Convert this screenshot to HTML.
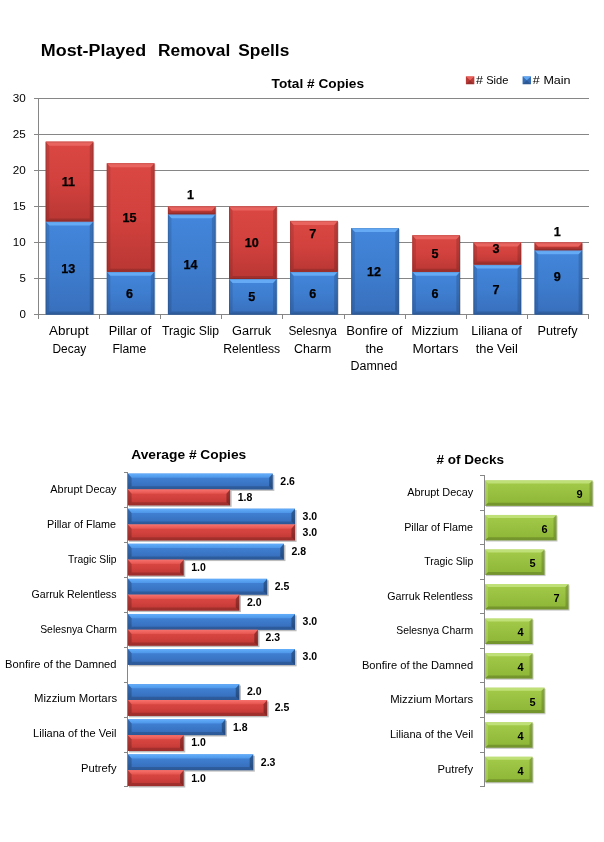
<!DOCTYPE html>
<html lang="en"><head><meta charset="utf-8"><title>Most-Played Removal Spells</title>
<style>html,body{margin:0;padding:0;background:#fff}svg{display:block}text{font-family:"Liberation Sans", sans-serif;}</style>
</head><body>
<svg width="604" height="842" viewBox="0 0 604 842">
<defs>
<linearGradient id="vsh" x1="0" x2="1" y1="0" y2="0">
<stop offset="0" stop-color="#000" stop-opacity=".30"/><stop offset=".07" stop-color="#000" stop-opacity=".06"/>
<stop offset=".5" stop-color="#000" stop-opacity="0"/>
<stop offset=".93" stop-color="#000" stop-opacity=".06"/><stop offset="1" stop-color="#000" stop-opacity=".30"/>
</linearGradient>
<linearGradient id="gBv" x1="0" x2="0" y1="0" y2="1">
<stop offset="0" stop-color="#4386db"/><stop offset=".5" stop-color="#3e7dcf"/><stop offset="1" stop-color="#386fbc"/>
</linearGradient>
<linearGradient id="gRv" x1="0" x2="0" y1="0" y2="1">
<stop offset="0" stop-color="#db4844"/><stop offset=".5" stop-color="#d2413d"/><stop offset="1" stop-color="#b93734"/>
</linearGradient>
<linearGradient id="hB" x1="0" x2="0" y1="0" y2="1">
<stop offset="0" stop-color="#4385da"/><stop offset=".5" stop-color="#3c79ca"/><stop offset="1" stop-color="#3469b4"/>
</linearGradient>
<linearGradient id="hR" x1="0" x2="0" y1="0" y2="1">
<stop offset="0" stop-color="#e04c48"/><stop offset=".5" stop-color="#d2413d"/><stop offset="1" stop-color="#ba3633"/>
</linearGradient>
<linearGradient id="hiB" x1="0" x2="0" y1="0" y2="1"><stop offset="0" stop-color="#66b2ff"/><stop offset="1" stop-color="#4f98ea"/></linearGradient>
<linearGradient id="hiR" x1="0" x2="0" y1="0" y2="1"><stop offset="0" stop-color="#fa7570"/><stop offset="1" stop-color="#e65550"/></linearGradient>
<linearGradient id="hend" x1="0" x2="1" y1="0" y2="0">
<stop offset="0" stop-color="#000" stop-opacity="0"/><stop offset="1" stop-color="#000" stop-opacity=".35"/>
</linearGradient>
<linearGradient id="gG" x1="0" x2="0" y1="0" y2="1">
<stop offset="0" stop-color="#a4cb4a"/><stop offset="1" stop-color="#8db536"/>
</linearGradient>
</defs>
<rect width="604" height="842" fill="#fff"/>
<g stroke="#868686" stroke-width="1" shape-rendering="crispEdges">
<line x1="34" y1="314.5" x2="588.5" y2="314.5"/>
<line x1="34" y1="278.5" x2="588.5" y2="278.5"/>
<line x1="34" y1="242.5" x2="588.5" y2="242.5"/>
<line x1="34" y1="206.5" x2="588.5" y2="206.5"/>
<line x1="34" y1="170.5" x2="588.5" y2="170.5"/>
<line x1="34" y1="134.5" x2="588.5" y2="134.5"/>
<line x1="34" y1="98.5" x2="588.5" y2="98.5"/>
<line x1="38.5" y1="98" x2="38.5" y2="315.0"/>
<line x1="38.5" y1="314.0" x2="38.5" y2="319.0"/>
<line x1="99.5" y1="314.0" x2="99.5" y2="319.0"/>
<line x1="160.5" y1="314.0" x2="160.5" y2="319.0"/>
<line x1="221.5" y1="314.0" x2="221.5" y2="319.0"/>
<line x1="282.5" y1="314.0" x2="282.5" y2="319.0"/>
<line x1="344.5" y1="314.0" x2="344.5" y2="319.0"/>
<line x1="405.5" y1="314.0" x2="405.5" y2="319.0"/>
<line x1="466.5" y1="314.0" x2="466.5" y2="319.0"/>
<line x1="527.5" y1="314.0" x2="527.5" y2="319.0"/>
<line x1="588.5" y1="314.0" x2="588.5" y2="319.0"/>
</g>
<text x="25.80" y="317.80" font-size="11.5" text-anchor="end">0</text>
<text x="25.80" y="281.80" font-size="11.5" text-anchor="end">5</text>
<text x="25.80" y="245.80" font-size="11.5" text-anchor="end" textLength="13.0" lengthAdjust="spacingAndGlyphs">10</text>
<text x="25.80" y="209.80" font-size="11.5" text-anchor="end" textLength="13.0" lengthAdjust="spacingAndGlyphs">15</text>
<text x="25.80" y="173.80" font-size="11.5" text-anchor="end" textLength="13.0" lengthAdjust="spacingAndGlyphs">20</text>
<text x="25.80" y="137.80" font-size="11.5" text-anchor="end" textLength="13.0" lengthAdjust="spacingAndGlyphs">25</text>
<text x="25.80" y="101.80" font-size="11.5" text-anchor="end" textLength="13.0" lengthAdjust="spacingAndGlyphs">30</text>
<rect x="46.70" y="142.70" width="47.60" height="171.80" fill="#000" fill-opacity=".18"/>
<rect x="107.81" y="164.30" width="47.60" height="150.20" fill="#000" fill-opacity=".18"/>
<rect x="168.92" y="207.50" width="47.60" height="107.00" fill="#000" fill-opacity=".18"/>
<rect x="230.03" y="207.50" width="47.60" height="107.00" fill="#000" fill-opacity=".18"/>
<rect x="291.14" y="221.90" width="47.60" height="92.60" fill="#000" fill-opacity=".18"/>
<rect x="352.26" y="229.10" width="47.60" height="85.40" fill="#000" fill-opacity=".18"/>
<rect x="413.37" y="236.30" width="47.60" height="78.20" fill="#000" fill-opacity=".18"/>
<rect x="474.48" y="243.50" width="47.60" height="71.00" fill="#000" fill-opacity=".18"/>
<rect x="535.59" y="243.50" width="47.60" height="71.00" fill="#000" fill-opacity=".18"/>
<rect x="45.70" y="221.40" width="47.60" height="93.10" fill="#3d7bcd"/>
<rect x="45.70" y="221.40" width="47.60" height="93.10" fill="url(#gBv)"/>
<path d="M45.70 221.40L49.30 225.40V311.50L45.70 314.50Z" fill="#000" fill-opacity=".11"/>
<path d="M93.30 221.40L89.70 225.40V311.50L93.30 314.50Z" fill="#000" fill-opacity=".15"/>
<path d="M45.70 221.40H93.30L89.70 225.40H49.30Z" fill="#66acf6" fill-opacity=".95"/>
<path d="M45.70 314.50H93.30L89.70 311.50H49.30Z" fill="#000" fill-opacity=".14"/>
<rect x="46.20" y="221.90" width="46.60" height="92.10" fill="none" stroke="#000" stroke-opacity=".10"/>
<rect x="45.70" y="141.70" width="47.60" height="79.70" fill="#d2413d"/>
<rect x="45.70" y="141.70" width="47.60" height="79.70" fill="url(#gRv)"/>
<path d="M45.70 141.70L49.30 145.70V218.40L45.70 221.40Z" fill="#000" fill-opacity=".11"/>
<path d="M93.30 141.70L89.70 145.70V218.40L93.30 221.40Z" fill="#000" fill-opacity=".15"/>
<path d="M45.70 141.70H93.30L89.70 145.70H49.30Z" fill="#ea6661" fill-opacity=".95"/>
<path d="M45.70 221.40H93.30L89.70 218.40H49.30Z" fill="#000" fill-opacity=".14"/>
<rect x="46.20" y="142.20" width="46.60" height="78.70" fill="none" stroke="#000" stroke-opacity=".10"/>
<rect x="106.81" y="271.80" width="47.60" height="42.70" fill="#3d7bcd"/>
<rect x="106.81" y="271.80" width="47.60" height="42.70" fill="url(#gBv)"/>
<path d="M106.81 271.80L110.41 275.80V311.50L106.81 314.50Z" fill="#000" fill-opacity=".11"/>
<path d="M154.41 271.80L150.81 275.80V311.50L154.41 314.50Z" fill="#000" fill-opacity=".15"/>
<path d="M106.81 271.80H154.41L150.81 275.80H110.41Z" fill="#66acf6" fill-opacity=".95"/>
<path d="M106.81 314.50H154.41L150.81 311.50H110.41Z" fill="#000" fill-opacity=".14"/>
<rect x="107.31" y="272.30" width="46.60" height="41.70" fill="none" stroke="#000" stroke-opacity=".10"/>
<rect x="106.81" y="163.30" width="47.60" height="108.50" fill="#d2413d"/>
<rect x="106.81" y="163.30" width="47.60" height="108.50" fill="url(#gRv)"/>
<path d="M106.81 163.30L110.41 167.30V268.80L106.81 271.80Z" fill="#000" fill-opacity=".11"/>
<path d="M154.41 163.30L150.81 167.30V268.80L154.41 271.80Z" fill="#000" fill-opacity=".15"/>
<path d="M106.81 163.30H154.41L150.81 167.30H110.41Z" fill="#ea6661" fill-opacity=".95"/>
<path d="M106.81 271.80H154.41L150.81 268.80H110.41Z" fill="#000" fill-opacity=".14"/>
<rect x="107.31" y="163.80" width="46.60" height="107.50" fill="none" stroke="#000" stroke-opacity=".10"/>
<rect x="167.92" y="214.20" width="47.60" height="100.30" fill="#3d7bcd"/>
<rect x="167.92" y="214.20" width="47.60" height="100.30" fill="url(#gBv)"/>
<path d="M167.92 214.20L171.52 218.20V311.50L167.92 314.50Z" fill="#000" fill-opacity=".11"/>
<path d="M215.52 214.20L211.92 218.20V311.50L215.52 314.50Z" fill="#000" fill-opacity=".15"/>
<path d="M167.92 214.20H215.52L211.92 218.20H171.52Z" fill="#66acf6" fill-opacity=".95"/>
<path d="M167.92 314.50H215.52L211.92 311.50H171.52Z" fill="#000" fill-opacity=".14"/>
<rect x="168.42" y="214.70" width="46.60" height="99.30" fill="none" stroke="#000" stroke-opacity=".10"/>
<rect x="167.92" y="206.50" width="47.60" height="7.70" fill="#d2413d"/>
<rect x="167.92" y="206.50" width="47.60" height="7.70" fill="url(#gRv)"/>
<path d="M167.92 206.50L171.52 210.50V211.20L167.92 214.20Z" fill="#000" fill-opacity=".11"/>
<path d="M215.52 206.50L211.92 210.50V211.20L215.52 214.20Z" fill="#000" fill-opacity=".15"/>
<path d="M167.92 206.50H215.52L211.92 210.50H171.52Z" fill="#ea6661" fill-opacity=".95"/>
<path d="M167.92 214.20H215.52L211.92 211.20H171.52Z" fill="#000" fill-opacity=".14"/>
<rect x="168.42" y="207.00" width="46.60" height="6.70" fill="none" stroke="#000" stroke-opacity=".10"/>
<rect x="229.03" y="279.00" width="47.60" height="35.50" fill="#3d7bcd"/>
<rect x="229.03" y="279.00" width="47.60" height="35.50" fill="url(#gBv)"/>
<path d="M229.03 279.00L232.63 283.00V311.50L229.03 314.50Z" fill="#000" fill-opacity=".11"/>
<path d="M276.63 279.00L273.03 283.00V311.50L276.63 314.50Z" fill="#000" fill-opacity=".15"/>
<path d="M229.03 279.00H276.63L273.03 283.00H232.63Z" fill="#66acf6" fill-opacity=".95"/>
<path d="M229.03 314.50H276.63L273.03 311.50H232.63Z" fill="#000" fill-opacity=".14"/>
<rect x="229.53" y="279.50" width="46.60" height="34.50" fill="none" stroke="#000" stroke-opacity=".10"/>
<rect x="229.03" y="206.50" width="47.60" height="72.50" fill="#d2413d"/>
<rect x="229.03" y="206.50" width="47.60" height="72.50" fill="url(#gRv)"/>
<path d="M229.03 206.50L232.63 210.50V276.00L229.03 279.00Z" fill="#000" fill-opacity=".11"/>
<path d="M276.63 206.50L273.03 210.50V276.00L276.63 279.00Z" fill="#000" fill-opacity=".15"/>
<path d="M229.03 206.50H276.63L273.03 210.50H232.63Z" fill="#ea6661" fill-opacity=".95"/>
<path d="M229.03 279.00H276.63L273.03 276.00H232.63Z" fill="#000" fill-opacity=".14"/>
<rect x="229.53" y="207.00" width="46.60" height="71.50" fill="none" stroke="#000" stroke-opacity=".10"/>
<rect x="290.14" y="271.80" width="47.60" height="42.70" fill="#3d7bcd"/>
<rect x="290.14" y="271.80" width="47.60" height="42.70" fill="url(#gBv)"/>
<path d="M290.14 271.80L293.74 275.80V311.50L290.14 314.50Z" fill="#000" fill-opacity=".11"/>
<path d="M337.74 271.80L334.14 275.80V311.50L337.74 314.50Z" fill="#000" fill-opacity=".15"/>
<path d="M290.14 271.80H337.74L334.14 275.80H293.74Z" fill="#66acf6" fill-opacity=".95"/>
<path d="M290.14 314.50H337.74L334.14 311.50H293.74Z" fill="#000" fill-opacity=".14"/>
<rect x="290.64" y="272.30" width="46.60" height="41.70" fill="none" stroke="#000" stroke-opacity=".10"/>
<rect x="290.14" y="220.90" width="47.60" height="50.90" fill="#d2413d"/>
<rect x="290.14" y="220.90" width="47.60" height="50.90" fill="url(#gRv)"/>
<path d="M290.14 220.90L293.74 224.90V268.80L290.14 271.80Z" fill="#000" fill-opacity=".11"/>
<path d="M337.74 220.90L334.14 224.90V268.80L337.74 271.80Z" fill="#000" fill-opacity=".15"/>
<path d="M290.14 220.90H337.74L334.14 224.90H293.74Z" fill="#ea6661" fill-opacity=".95"/>
<path d="M290.14 271.80H337.74L334.14 268.80H293.74Z" fill="#000" fill-opacity=".14"/>
<rect x="290.64" y="221.40" width="46.60" height="49.90" fill="none" stroke="#000" stroke-opacity=".10"/>
<rect x="351.26" y="228.10" width="47.60" height="86.40" fill="#3d7bcd"/>
<rect x="351.26" y="228.10" width="47.60" height="86.40" fill="url(#gBv)"/>
<path d="M351.26 228.10L354.86 232.10V311.50L351.26 314.50Z" fill="#000" fill-opacity=".11"/>
<path d="M398.86 228.10L395.26 232.10V311.50L398.86 314.50Z" fill="#000" fill-opacity=".15"/>
<path d="M351.26 228.10H398.86L395.26 232.10H354.86Z" fill="#66acf6" fill-opacity=".95"/>
<path d="M351.26 314.50H398.86L395.26 311.50H354.86Z" fill="#000" fill-opacity=".14"/>
<rect x="351.76" y="228.60" width="46.60" height="85.40" fill="none" stroke="#000" stroke-opacity=".10"/>
<rect x="412.37" y="271.80" width="47.60" height="42.70" fill="#3d7bcd"/>
<rect x="412.37" y="271.80" width="47.60" height="42.70" fill="url(#gBv)"/>
<path d="M412.37 271.80L415.97 275.80V311.50L412.37 314.50Z" fill="#000" fill-opacity=".11"/>
<path d="M459.97 271.80L456.37 275.80V311.50L459.97 314.50Z" fill="#000" fill-opacity=".15"/>
<path d="M412.37 271.80H459.97L456.37 275.80H415.97Z" fill="#66acf6" fill-opacity=".95"/>
<path d="M412.37 314.50H459.97L456.37 311.50H415.97Z" fill="#000" fill-opacity=".14"/>
<rect x="412.87" y="272.30" width="46.60" height="41.70" fill="none" stroke="#000" stroke-opacity=".10"/>
<rect x="412.37" y="235.30" width="47.60" height="36.50" fill="#d2413d"/>
<rect x="412.37" y="235.30" width="47.60" height="36.50" fill="url(#gRv)"/>
<path d="M412.37 235.30L415.97 239.30V268.80L412.37 271.80Z" fill="#000" fill-opacity=".11"/>
<path d="M459.97 235.30L456.37 239.30V268.80L459.97 271.80Z" fill="#000" fill-opacity=".15"/>
<path d="M412.37 235.30H459.97L456.37 239.30H415.97Z" fill="#ea6661" fill-opacity=".95"/>
<path d="M412.37 271.80H459.97L456.37 268.80H415.97Z" fill="#000" fill-opacity=".14"/>
<rect x="412.87" y="235.80" width="46.60" height="35.50" fill="none" stroke="#000" stroke-opacity=".10"/>
<rect x="473.48" y="264.60" width="47.60" height="49.90" fill="#3d7bcd"/>
<rect x="473.48" y="264.60" width="47.60" height="49.90" fill="url(#gBv)"/>
<path d="M473.48 264.60L477.08 268.60V311.50L473.48 314.50Z" fill="#000" fill-opacity=".11"/>
<path d="M521.08 264.60L517.48 268.60V311.50L521.08 314.50Z" fill="#000" fill-opacity=".15"/>
<path d="M473.48 264.60H521.08L517.48 268.60H477.08Z" fill="#66acf6" fill-opacity=".95"/>
<path d="M473.48 314.50H521.08L517.48 311.50H477.08Z" fill="#000" fill-opacity=".14"/>
<rect x="473.98" y="265.10" width="46.60" height="48.90" fill="none" stroke="#000" stroke-opacity=".10"/>
<rect x="473.48" y="242.50" width="47.60" height="22.10" fill="#d2413d"/>
<rect x="473.48" y="242.50" width="47.60" height="22.10" fill="url(#gRv)"/>
<path d="M473.48 242.50L477.08 246.50V261.60L473.48 264.60Z" fill="#000" fill-opacity=".11"/>
<path d="M521.08 242.50L517.48 246.50V261.60L521.08 264.60Z" fill="#000" fill-opacity=".15"/>
<path d="M473.48 242.50H521.08L517.48 246.50H477.08Z" fill="#ea6661" fill-opacity=".95"/>
<path d="M473.48 264.60H521.08L517.48 261.60H477.08Z" fill="#000" fill-opacity=".14"/>
<rect x="473.98" y="243.00" width="46.60" height="21.10" fill="none" stroke="#000" stroke-opacity=".10"/>
<rect x="534.59" y="250.20" width="47.60" height="64.30" fill="#3d7bcd"/>
<rect x="534.59" y="250.20" width="47.60" height="64.30" fill="url(#gBv)"/>
<path d="M534.59 250.20L538.19 254.20V311.50L534.59 314.50Z" fill="#000" fill-opacity=".11"/>
<path d="M582.19 250.20L578.59 254.20V311.50L582.19 314.50Z" fill="#000" fill-opacity=".15"/>
<path d="M534.59 250.20H582.19L578.59 254.20H538.19Z" fill="#66acf6" fill-opacity=".95"/>
<path d="M534.59 314.50H582.19L578.59 311.50H538.19Z" fill="#000" fill-opacity=".14"/>
<rect x="535.09" y="250.70" width="46.60" height="63.30" fill="none" stroke="#000" stroke-opacity=".10"/>
<rect x="534.59" y="242.50" width="47.60" height="7.70" fill="#d2413d"/>
<rect x="534.59" y="242.50" width="47.60" height="7.70" fill="url(#gRv)"/>
<path d="M534.59 242.50L538.19 246.50V247.20L534.59 250.20Z" fill="#000" fill-opacity=".11"/>
<path d="M582.19 242.50L578.59 246.50V247.20L582.19 250.20Z" fill="#000" fill-opacity=".15"/>
<path d="M534.59 242.50H582.19L578.59 246.50H538.19Z" fill="#ea6661" fill-opacity=".95"/>
<path d="M534.59 250.20H582.19L578.59 247.20H538.19Z" fill="#000" fill-opacity=".14"/>
<rect x="535.09" y="243.00" width="46.60" height="6.70" fill="none" stroke="#000" stroke-opacity=".10"/>
<text x="68.36" y="272.50" font-size="12.6" font-weight="bold" stroke="#000" stroke-width=".25" text-anchor="middle">13</text>
<text x="68.36" y="186.10" font-size="12.6" font-weight="bold" stroke="#000" stroke-width=".25" text-anchor="middle">11</text>
<text x="129.47" y="297.70" font-size="12.6" font-weight="bold" stroke="#000" stroke-width=".25" text-anchor="middle">6</text>
<text x="129.47" y="222.10" font-size="12.6" font-weight="bold" stroke="#000" stroke-width=".25" text-anchor="middle">15</text>
<text x="190.58" y="268.90" font-size="12.6" font-weight="bold" stroke="#000" stroke-width=".25" text-anchor="middle">14</text>
<text x="190.58" y="199.20" font-size="12.6" font-weight="bold" stroke="#000" stroke-width=".25" text-anchor="middle">1</text>
<text x="251.69" y="301.30" font-size="12.6" font-weight="bold" stroke="#000" stroke-width=".25" text-anchor="middle">5</text>
<text x="251.69" y="247.30" font-size="12.6" font-weight="bold" stroke="#000" stroke-width=".25" text-anchor="middle">10</text>
<text x="312.80" y="297.70" font-size="12.6" font-weight="bold" stroke="#000" stroke-width=".25" text-anchor="middle">6</text>
<text x="312.80" y="238.10" font-size="12.6" font-weight="bold" stroke="#000" stroke-width=".25" text-anchor="middle">7</text>
<text x="373.91" y="276.10" font-size="12.6" font-weight="bold" stroke="#000" stroke-width=".25" text-anchor="middle">12</text>
<text x="435.02" y="297.70" font-size="12.6" font-weight="bold" stroke="#000" stroke-width=".25" text-anchor="middle">6</text>
<text x="435.02" y="258.10" font-size="12.6" font-weight="bold" stroke="#000" stroke-width=".25" text-anchor="middle">5</text>
<text x="496.13" y="294.10" font-size="12.6" font-weight="bold" stroke="#000" stroke-width=".25" text-anchor="middle">7</text>
<text x="496.13" y="253.00" font-size="12.6" font-weight="bold" stroke="#000" stroke-width=".25" text-anchor="middle">3</text>
<text x="557.24" y="281.10" font-size="12.6" font-weight="bold" stroke="#000" stroke-width=".25" text-anchor="middle">9</text>
<text x="557.24" y="235.60" font-size="12.6" font-weight="bold" stroke="#000" stroke-width=".25" text-anchor="middle">1</text>
<text x="68.90" y="335.30" font-size="12.0" text-anchor="middle" textLength="39.6" lengthAdjust="spacingAndGlyphs">Abrupt</text>
<text x="69.35" y="352.70" font-size="12.0" text-anchor="middle" textLength="33.7" lengthAdjust="spacingAndGlyphs">Decay</text>
<text x="129.95" y="335.30" font-size="12.0" text-anchor="middle" textLength="42.5" lengthAdjust="spacingAndGlyphs">Pillar of</text>
<text x="129.35" y="352.70" font-size="12.0" text-anchor="middle" textLength="33.9" lengthAdjust="spacingAndGlyphs">Flame</text>
<text x="190.60" y="335.30" font-size="12.0" text-anchor="middle" textLength="57.0" lengthAdjust="spacingAndGlyphs">Tragic Slip</text>
<text x="251.65" y="335.30" font-size="12.0" text-anchor="middle" textLength="39.1" lengthAdjust="spacingAndGlyphs">Garruk</text>
<text x="251.70" y="352.70" font-size="12.0" text-anchor="middle" textLength="57.0" lengthAdjust="spacingAndGlyphs">Relentless</text>
<text x="312.65" y="335.30" font-size="12.0" text-anchor="middle" textLength="48.5" lengthAdjust="spacingAndGlyphs">Selesnya</text>
<text x="312.65" y="352.70" font-size="12.0" text-anchor="middle" textLength="37.1" lengthAdjust="spacingAndGlyphs">Charm</text>
<text x="374.40" y="335.30" font-size="12.0" text-anchor="middle" textLength="56.2" lengthAdjust="spacingAndGlyphs">Bonfire of</text>
<text x="374.40" y="352.70" font-size="12.0" text-anchor="middle" textLength="18.0" lengthAdjust="spacingAndGlyphs">the</text>
<text x="374.00" y="369.70" font-size="12.0" text-anchor="middle" textLength="47.0" lengthAdjust="spacingAndGlyphs">Damned</text>
<text x="434.95" y="335.30" font-size="12.0" text-anchor="middle" textLength="46.9" lengthAdjust="spacingAndGlyphs">Mizzium</text>
<text x="435.45" y="352.70" font-size="12.0" text-anchor="middle" textLength="45.9" lengthAdjust="spacingAndGlyphs">Mortars</text>
<text x="496.60" y="335.30" font-size="12.0" text-anchor="middle" textLength="50.6" lengthAdjust="spacingAndGlyphs">Liliana of</text>
<text x="496.75" y="352.70" font-size="12.0" text-anchor="middle" textLength="42.1" lengthAdjust="spacingAndGlyphs">the Veil</text>
<text x="557.55" y="335.30" font-size="12.0" text-anchor="middle" textLength="40.1" lengthAdjust="spacingAndGlyphs">Putrefy</text>
<text y="55.8" font-size="17.4" font-weight="bold"><tspan x="40.8" textLength="105.4" lengthAdjust="spacingAndGlyphs">Most-Played</tspan> <tspan x="158" textLength="72.3" lengthAdjust="spacingAndGlyphs">Removal</tspan> <tspan x="238.3" textLength="51" lengthAdjust="spacingAndGlyphs">Spells</tspan></text>
<text x="317.80" y="87.50" font-size="13.6" font-weight="bold" text-anchor="middle" textLength="92.4" lengthAdjust="spacingAndGlyphs">Total # Copies</text>
<rect x="465.9" y="76.4" width="8.4" height="7.8" fill="#d2413d"/>
<path d="M465.9 76.4h8.4L470.09999999999997 80.30000000000001z" fill="#ee6a64" fill-opacity=".85"/>
<path d="M465.9 76.4L470.09999999999997 80.30000000000001L465.9 84.2zM474.29999999999995 76.4L470.09999999999997 80.30000000000001L474.29999999999995 84.2z" fill="#000" fill-opacity=".12"/>
<path d="M465.9 84.2h8.4L470.09999999999997 80.30000000000001z" fill="#000" fill-opacity=".28"/>
<rect x="522.6" y="76.4" width="8.4" height="7.8" fill="#3d7bcd"/>
<path d="M522.6 76.4h8.4L526.8000000000001 80.30000000000001z" fill="#66aef8" fill-opacity=".85"/>
<path d="M522.6 76.4L526.8000000000001 80.30000000000001L522.6 84.2zM531.0 76.4L526.8000000000001 80.30000000000001L531.0 84.2z" fill="#000" fill-opacity=".12"/>
<path d="M522.6 84.2h8.4L526.8000000000001 80.30000000000001z" fill="#000" fill-opacity=".28"/>
<text y="83.8" font-size="11.8"><tspan x="476.0" textLength="7.0" lengthAdjust="spacingAndGlyphs">#</tspan> <tspan x="486.2" textLength="22.2" lengthAdjust="spacingAndGlyphs">Side</tspan></text>
<text y="83.8" font-size="11.8"><tspan x="532.8" textLength="7.0" lengthAdjust="spacingAndGlyphs">#</tspan> <tspan x="543.4" textLength="27.2" lengthAdjust="spacingAndGlyphs">Main</tspan></text>
<g stroke="#868686" stroke-width="1" shape-rendering="crispEdges">
<line x1="127.5" y1="472.4" x2="127.5" y2="787.1"/>
<line x1="124" y1="472.5" x2="128.0" y2="472.5"/>
<line x1="124" y1="507.5" x2="128.0" y2="507.5"/>
<line x1="124" y1="542.5" x2="128.0" y2="542.5"/>
<line x1="124" y1="577.5" x2="128.0" y2="577.5"/>
<line x1="124" y1="612.5" x2="128.0" y2="612.5"/>
<line x1="124" y1="647.5" x2="128.0" y2="647.5"/>
<line x1="124" y1="682.5" x2="128.0" y2="682.5"/>
<line x1="124" y1="717.5" x2="128.0" y2="717.5"/>
<line x1="124" y1="752.5" x2="128.0" y2="752.5"/>
<line x1="124" y1="786.5" x2="128.0" y2="786.5"/>
</g>
<rect x="129.00" y="475.00" width="145.34" height="15.90" fill="#000" fill-opacity=".26"/>
<rect x="128.00" y="473.60" width="144.74" height="15.90" fill="url(#hB)"/>
<path d="M128.00 473.60H272.74L269.14 477.80H131.60Z" fill="url(#hiB)" fill-opacity=".9"/>
<path d="M128.00 489.50H272.74L269.14 486.30H131.60Z" fill="#000" fill-opacity=".16"/>
<path d="M128.00 473.60L131.60 477.80V486.30L128.00 489.50Z" fill="#000" fill-opacity=".20"/>
<path d="M272.74 473.60L269.14 477.80V486.30L272.74 489.50Z" fill="#000" fill-opacity=".30"/>
<rect x="129.00" y="490.90" width="102.66" height="15.90" fill="#000" fill-opacity=".26"/>
<rect x="128.00" y="489.50" width="102.06" height="15.90" fill="url(#hR)"/>
<path d="M128.00 489.50H230.06L226.46 493.70H131.60Z" fill="url(#hiR)" fill-opacity=".9"/>
<path d="M128.00 505.40H230.06L226.46 502.20H131.60Z" fill="#000" fill-opacity=".16"/>
<path d="M128.00 489.50L131.60 493.70V502.20L128.00 505.40Z" fill="#000" fill-opacity=".20"/>
<path d="M230.06 489.50L226.46 493.70V502.20L230.06 505.40Z" fill="#000" fill-opacity=".30"/>
<rect x="129.00" y="510.09" width="167.61" height="15.90" fill="#000" fill-opacity=".26"/>
<rect x="128.00" y="508.69" width="167.01" height="15.90" fill="url(#hB)"/>
<path d="M128.00 508.69H295.01L291.41 512.89H131.60Z" fill="url(#hiB)" fill-opacity=".9"/>
<path d="M128.00 524.59H295.01L291.41 521.39H131.60Z" fill="#000" fill-opacity=".16"/>
<path d="M128.00 508.69L131.60 512.89V521.39L128.00 524.59Z" fill="#000" fill-opacity=".20"/>
<path d="M295.01 508.69L291.41 512.89V521.39L295.01 524.59Z" fill="#000" fill-opacity=".30"/>
<rect x="129.00" y="525.99" width="167.61" height="15.90" fill="#000" fill-opacity=".26"/>
<rect x="128.00" y="524.59" width="167.01" height="15.90" fill="url(#hR)"/>
<path d="M128.00 524.59H295.01L291.41 528.79H131.60Z" fill="url(#hiR)" fill-opacity=".9"/>
<path d="M128.00 540.49H295.01L291.41 537.29H131.60Z" fill="#000" fill-opacity=".16"/>
<path d="M128.00 524.59L131.60 528.79V537.29L128.00 540.49Z" fill="#000" fill-opacity=".20"/>
<path d="M295.01 524.59L291.41 528.79V537.29L295.01 540.49Z" fill="#000" fill-opacity=".30"/>
<rect x="129.00" y="545.18" width="156.48" height="15.90" fill="#000" fill-opacity=".26"/>
<rect x="128.00" y="543.78" width="155.88" height="15.90" fill="url(#hB)"/>
<path d="M128.00 543.78H283.88L280.28 547.98H131.60Z" fill="url(#hiB)" fill-opacity=".9"/>
<path d="M128.00 559.68H283.88L280.28 556.48H131.60Z" fill="#000" fill-opacity=".16"/>
<path d="M128.00 543.78L131.60 547.98V556.48L128.00 559.68Z" fill="#000" fill-opacity=".20"/>
<path d="M283.88 543.78L280.28 547.98V556.48L283.88 559.68Z" fill="#000" fill-opacity=".30"/>
<rect x="129.00" y="561.08" width="56.27" height="15.90" fill="#000" fill-opacity=".26"/>
<rect x="128.00" y="559.68" width="55.67" height="15.90" fill="url(#hR)"/>
<path d="M128.00 559.68H183.67L180.07 563.88H131.60Z" fill="url(#hiR)" fill-opacity=".9"/>
<path d="M128.00 575.58H183.67L180.07 572.38H131.60Z" fill="#000" fill-opacity=".16"/>
<path d="M128.00 559.68L131.60 563.88V572.38L128.00 575.58Z" fill="#000" fill-opacity=".20"/>
<path d="M183.67 559.68L180.07 563.88V572.38L183.67 575.58Z" fill="#000" fill-opacity=".30"/>
<rect x="129.00" y="580.27" width="139.78" height="15.90" fill="#000" fill-opacity=".26"/>
<rect x="128.00" y="578.87" width="139.18" height="15.90" fill="url(#hB)"/>
<path d="M128.00 578.87H267.18L263.57 583.07H131.60Z" fill="url(#hiB)" fill-opacity=".9"/>
<path d="M128.00 594.77H267.18L263.57 591.57H131.60Z" fill="#000" fill-opacity=".16"/>
<path d="M128.00 578.87L131.60 583.07V591.57L128.00 594.77Z" fill="#000" fill-opacity=".20"/>
<path d="M267.18 578.87L263.57 583.07V591.57L267.18 594.77Z" fill="#000" fill-opacity=".30"/>
<rect x="129.00" y="596.17" width="111.94" height="15.90" fill="#000" fill-opacity=".26"/>
<rect x="128.00" y="594.77" width="111.34" height="15.90" fill="url(#hR)"/>
<path d="M128.00 594.77H239.34L235.74 598.97H131.60Z" fill="url(#hiR)" fill-opacity=".9"/>
<path d="M128.00 610.67H239.34L235.74 607.47H131.60Z" fill="#000" fill-opacity=".16"/>
<path d="M128.00 594.77L131.60 598.97V607.47L128.00 610.67Z" fill="#000" fill-opacity=".20"/>
<path d="M239.34 594.77L235.74 598.97V607.47L239.34 610.67Z" fill="#000" fill-opacity=".30"/>
<rect x="129.00" y="615.36" width="167.61" height="15.90" fill="#000" fill-opacity=".26"/>
<rect x="128.00" y="613.96" width="167.01" height="15.90" fill="url(#hB)"/>
<path d="M128.00 613.96H295.01L291.41 618.16H131.60Z" fill="url(#hiB)" fill-opacity=".9"/>
<path d="M128.00 629.86H295.01L291.41 626.66H131.60Z" fill="#000" fill-opacity=".16"/>
<path d="M128.00 613.96L131.60 618.16V626.66L128.00 629.86Z" fill="#000" fill-opacity=".20"/>
<path d="M295.01 613.96L291.41 618.16V626.66L295.01 629.86Z" fill="#000" fill-opacity=".30"/>
<rect x="129.00" y="631.26" width="130.50" height="15.90" fill="#000" fill-opacity=".26"/>
<rect x="128.00" y="629.86" width="129.90" height="15.90" fill="url(#hR)"/>
<path d="M128.00 629.86H257.90L254.30 634.06H131.60Z" fill="url(#hiR)" fill-opacity=".9"/>
<path d="M128.00 645.76H257.90L254.30 642.56H131.60Z" fill="#000" fill-opacity=".16"/>
<path d="M128.00 629.86L131.60 634.06V642.56L128.00 645.76Z" fill="#000" fill-opacity=".20"/>
<path d="M257.90 629.86L254.30 634.06V642.56L257.90 645.76Z" fill="#000" fill-opacity=".30"/>
<rect x="129.00" y="650.45" width="167.61" height="15.90" fill="#000" fill-opacity=".26"/>
<rect x="128.00" y="649.05" width="167.01" height="15.90" fill="url(#hB)"/>
<path d="M128.00 649.05H295.01L291.41 653.25H131.60Z" fill="url(#hiB)" fill-opacity=".9"/>
<path d="M128.00 664.95H295.01L291.41 661.75H131.60Z" fill="#000" fill-opacity=".16"/>
<path d="M128.00 649.05L131.60 653.25V661.75L128.00 664.95Z" fill="#000" fill-opacity=".20"/>
<path d="M295.01 649.05L291.41 653.25V661.75L295.01 664.95Z" fill="#000" fill-opacity=".30"/>
<rect x="129.00" y="685.54" width="111.94" height="15.90" fill="#000" fill-opacity=".26"/>
<rect x="128.00" y="684.14" width="111.34" height="15.90" fill="url(#hB)"/>
<path d="M128.00 684.14H239.34L235.74 688.34H131.60Z" fill="url(#hiB)" fill-opacity=".9"/>
<path d="M128.00 700.04H239.34L235.74 696.84H131.60Z" fill="#000" fill-opacity=".16"/>
<path d="M128.00 684.14L131.60 688.34V696.84L128.00 700.04Z" fill="#000" fill-opacity=".20"/>
<path d="M239.34 684.14L235.74 688.34V696.84L239.34 700.04Z" fill="#000" fill-opacity=".30"/>
<rect x="129.00" y="701.44" width="139.78" height="15.90" fill="#000" fill-opacity=".26"/>
<rect x="128.00" y="700.04" width="139.18" height="15.90" fill="url(#hR)"/>
<path d="M128.00 700.04H267.18L263.57 704.24H131.60Z" fill="url(#hiR)" fill-opacity=".9"/>
<path d="M128.00 715.94H267.18L263.57 712.74H131.60Z" fill="#000" fill-opacity=".16"/>
<path d="M128.00 700.04L131.60 704.24V712.74L128.00 715.94Z" fill="#000" fill-opacity=".20"/>
<path d="M267.18 700.04L263.57 704.24V712.74L267.18 715.94Z" fill="#000" fill-opacity=".30"/>
<rect x="129.00" y="720.63" width="98.02" height="15.90" fill="#000" fill-opacity=".26"/>
<rect x="128.00" y="719.23" width="97.42" height="15.90" fill="url(#hB)"/>
<path d="M128.00 719.23H225.42L221.82 723.43H131.60Z" fill="url(#hiB)" fill-opacity=".9"/>
<path d="M128.00 735.13H225.42L221.82 731.93H131.60Z" fill="#000" fill-opacity=".16"/>
<path d="M128.00 719.23L131.60 723.43V731.93L128.00 735.13Z" fill="#000" fill-opacity=".20"/>
<path d="M225.42 719.23L221.82 723.43V731.93L225.42 735.13Z" fill="#000" fill-opacity=".30"/>
<rect x="129.00" y="736.53" width="56.27" height="15.90" fill="#000" fill-opacity=".26"/>
<rect x="128.00" y="735.13" width="55.67" height="15.90" fill="url(#hR)"/>
<path d="M128.00 735.13H183.67L180.07 739.33H131.60Z" fill="url(#hiR)" fill-opacity=".9"/>
<path d="M128.00 751.03H183.67L180.07 747.83H131.60Z" fill="#000" fill-opacity=".16"/>
<path d="M128.00 735.13L131.60 739.33V747.83L128.00 751.03Z" fill="#000" fill-opacity=".20"/>
<path d="M183.67 735.13L180.07 739.33V747.83L183.67 751.03Z" fill="#000" fill-opacity=".30"/>
<rect x="129.00" y="755.72" width="125.86" height="15.90" fill="#000" fill-opacity=".26"/>
<rect x="128.00" y="754.32" width="125.26" height="15.90" fill="url(#hB)"/>
<path d="M128.00 754.32H253.26L249.66 758.52H131.60Z" fill="url(#hiB)" fill-opacity=".9"/>
<path d="M128.00 770.22H253.26L249.66 767.02H131.60Z" fill="#000" fill-opacity=".16"/>
<path d="M128.00 754.32L131.60 758.52V767.02L128.00 770.22Z" fill="#000" fill-opacity=".20"/>
<path d="M253.26 754.32L249.66 758.52V767.02L253.26 770.22Z" fill="#000" fill-opacity=".30"/>
<rect x="129.00" y="771.62" width="56.27" height="15.90" fill="#000" fill-opacity=".26"/>
<rect x="128.00" y="770.22" width="55.67" height="15.90" fill="url(#hR)"/>
<path d="M128.00 770.22H183.67L180.07 774.42H131.60Z" fill="url(#hiR)" fill-opacity=".9"/>
<path d="M128.00 786.12H183.67L180.07 782.92H131.60Z" fill="#000" fill-opacity=".16"/>
<path d="M128.00 770.22L131.60 774.42V782.92L128.00 786.12Z" fill="#000" fill-opacity=".20"/>
<path d="M183.67 770.22L180.07 774.42V782.92L183.67 786.12Z" fill="#000" fill-opacity=".30"/>
<text x="280.34" y="484.95" font-size="10.8" font-weight="bold" textLength="14.6" lengthAdjust="spacingAndGlyphs">2.6</text>
<text x="237.66" y="500.85" font-size="10.8" font-weight="bold" textLength="14.6" lengthAdjust="spacingAndGlyphs">1.8</text>
<text x="83.40" y="493.00" font-size="11.2" text-anchor="middle" textLength="66.2" lengthAdjust="spacingAndGlyphs">Abrupt Decay</text>
<text x="302.61" y="520.04" font-size="10.8" font-weight="bold" textLength="14.6" lengthAdjust="spacingAndGlyphs">3.0</text>
<text x="302.61" y="535.94" font-size="10.8" font-weight="bold" textLength="14.6" lengthAdjust="spacingAndGlyphs">3.0</text>
<text x="81.60" y="527.90" font-size="11.2" text-anchor="middle" textLength="69.0" lengthAdjust="spacingAndGlyphs">Pillar of Flame</text>
<text x="291.48" y="555.13" font-size="10.8" font-weight="bold" textLength="14.6" lengthAdjust="spacingAndGlyphs">2.8</text>
<text x="191.27" y="571.03" font-size="10.8" font-weight="bold" textLength="14.6" lengthAdjust="spacingAndGlyphs">1.0</text>
<text x="92.30" y="562.80" font-size="11.2" text-anchor="middle" textLength="48.4" lengthAdjust="spacingAndGlyphs">Tragic Slip</text>
<text x="274.78" y="590.22" font-size="10.8" font-weight="bold" textLength="14.6" lengthAdjust="spacingAndGlyphs">2.5</text>
<text x="246.94" y="606.12" font-size="10.8" font-weight="bold" textLength="14.6" lengthAdjust="spacingAndGlyphs">2.0</text>
<text x="74.05" y="597.70" font-size="11.2" text-anchor="middle" textLength="84.9" lengthAdjust="spacingAndGlyphs">Garruk Relentless</text>
<text x="302.61" y="625.31" font-size="10.8" font-weight="bold" textLength="14.6" lengthAdjust="spacingAndGlyphs">3.0</text>
<text x="265.50" y="641.21" font-size="10.8" font-weight="bold" textLength="14.6" lengthAdjust="spacingAndGlyphs">2.3</text>
<text x="78.55" y="632.60" font-size="11.2" text-anchor="middle" textLength="76.7" lengthAdjust="spacingAndGlyphs">Selesnya Charm</text>
<text x="302.61" y="660.40" font-size="10.8" font-weight="bold" textLength="14.6" lengthAdjust="spacingAndGlyphs">3.0</text>
<text x="60.80" y="667.50" font-size="11.2" text-anchor="middle" textLength="111.4" lengthAdjust="spacingAndGlyphs">Bonfire of the Damned</text>
<text x="246.94" y="695.49" font-size="10.8" font-weight="bold" textLength="14.6" lengthAdjust="spacingAndGlyphs">2.0</text>
<text x="274.78" y="711.39" font-size="10.8" font-weight="bold" textLength="14.6" lengthAdjust="spacingAndGlyphs">2.5</text>
<text x="75.60" y="702.40" font-size="11.2" text-anchor="middle" textLength="83.0" lengthAdjust="spacingAndGlyphs">Mizzium Mortars</text>
<text x="233.02" y="730.58" font-size="10.8" font-weight="bold" textLength="14.6" lengthAdjust="spacingAndGlyphs">1.8</text>
<text x="191.27" y="746.48" font-size="10.8" font-weight="bold" textLength="14.6" lengthAdjust="spacingAndGlyphs">1.0</text>
<text x="74.80" y="737.30" font-size="11.2" text-anchor="middle" textLength="83.4" lengthAdjust="spacingAndGlyphs">Liliana of the Veil</text>
<text x="260.86" y="765.67" font-size="10.8" font-weight="bold" textLength="14.6" lengthAdjust="spacingAndGlyphs">2.3</text>
<text x="191.27" y="781.57" font-size="10.8" font-weight="bold" textLength="14.6" lengthAdjust="spacingAndGlyphs">1.0</text>
<text x="98.80" y="772.20" font-size="11.2" text-anchor="middle" textLength="35.4" lengthAdjust="spacingAndGlyphs">Putrefy</text>
<text x="188.75" y="458.50" font-size="13.6" font-weight="bold" text-anchor="middle" textLength="114.9" lengthAdjust="spacingAndGlyphs">Average # Copies</text>
<g stroke="#868686" stroke-width="1" shape-rendering="crispEdges">
<line x1="484.5" y1="475.4" x2="484.5" y2="786.9"/>
<line x1="480" y1="475.5" x2="485.0" y2="475.5"/>
<line x1="480" y1="510.5" x2="485.0" y2="510.5"/>
<line x1="480" y1="544.5" x2="485.0" y2="544.5"/>
<line x1="480" y1="579.5" x2="485.0" y2="579.5"/>
<line x1="480" y1="613.5" x2="485.0" y2="613.5"/>
<line x1="480" y1="648.5" x2="485.0" y2="648.5"/>
<line x1="480" y1="682.5" x2="485.0" y2="682.5"/>
<line x1="480" y1="717.5" x2="485.0" y2="717.5"/>
<line x1="480" y1="752.5" x2="485.0" y2="752.5"/>
<line x1="480" y1="786.5" x2="485.0" y2="786.5"/>
</g>
<rect x="486.00" y="481.60" width="107.50" height="25.40" fill="#000" fill-opacity=".22"/>
<rect x="485.00" y="480.40" width="107.50" height="25.40" fill="url(#gG)"/>
<path d="M485.00 480.40h107.50l-3 3h-101.50z" fill="#c4e480" fill-opacity=".85"/>
<path d="M485.00 505.80h107.50l-3 -3h-101.50z" fill="#000" fill-opacity=".18"/>
<path d="M485.00 480.40l3 3v19.40l-3 3z" fill="#c4e480" fill-opacity=".35"/>
<path d="M592.50 480.40l-3 3v19.40l3 3z" fill="#000" fill-opacity=".17"/>
<text x="579.50" y="497.90" font-size="11.0" font-weight="bold" text-anchor="middle">9</text>
<text x="440.20" y="496.10" font-size="11.2" text-anchor="middle" textLength="66.0" lengthAdjust="spacingAndGlyphs">Abrupt Decay</text>
<rect x="486.00" y="516.15" width="71.50" height="25.40" fill="#000" fill-opacity=".22"/>
<rect x="485.00" y="514.95" width="71.50" height="25.40" fill="url(#gG)"/>
<path d="M485.00 514.95h71.50l-3 3h-65.50z" fill="#c4e480" fill-opacity=".85"/>
<path d="M485.00 540.35h71.50l-3 -3h-65.50z" fill="#000" fill-opacity=".18"/>
<path d="M485.00 514.95l3 3v19.40l-3 3z" fill="#c4e480" fill-opacity=".35"/>
<path d="M556.50 514.95l-3 3v19.40l3 3z" fill="#000" fill-opacity=".17"/>
<text x="544.60" y="532.51" font-size="11.0" font-weight="bold" text-anchor="middle">6</text>
<text x="438.55" y="530.65" font-size="11.2" text-anchor="middle" textLength="68.7" lengthAdjust="spacingAndGlyphs">Pillar of Flame</text>
<rect x="486.00" y="550.70" width="59.50" height="25.40" fill="#000" fill-opacity=".22"/>
<rect x="485.00" y="549.50" width="59.50" height="25.40" fill="url(#gG)"/>
<path d="M485.00 549.50h59.50l-3 3h-53.50z" fill="#c4e480" fill-opacity=".85"/>
<path d="M485.00 574.90h59.50l-3 -3h-53.50z" fill="#000" fill-opacity=".18"/>
<path d="M485.00 549.50l3 3v19.40l-3 3z" fill="#c4e480" fill-opacity=".35"/>
<path d="M544.50 549.50l-3 3v19.40l3 3z" fill="#000" fill-opacity=".17"/>
<text x="532.60" y="567.12" font-size="11.0" font-weight="bold" text-anchor="middle">5</text>
<text x="448.75" y="565.20" font-size="11.2" text-anchor="middle" textLength="48.9" lengthAdjust="spacingAndGlyphs">Tragic Slip</text>
<rect x="486.00" y="585.25" width="83.50" height="25.40" fill="#000" fill-opacity=".22"/>
<rect x="485.00" y="584.05" width="83.50" height="25.40" fill="url(#gG)"/>
<path d="M485.00 584.05h83.50l-3 3h-77.50z" fill="#c4e480" fill-opacity=".85"/>
<path d="M485.00 609.45h83.50l-3 -3h-77.50z" fill="#000" fill-opacity=".18"/>
<path d="M485.00 584.05l3 3v19.40l-3 3z" fill="#c4e480" fill-opacity=".35"/>
<path d="M568.50 584.05l-3 3v19.40l3 3z" fill="#000" fill-opacity=".17"/>
<text x="556.60" y="601.73" font-size="11.0" font-weight="bold" text-anchor="middle">7</text>
<text x="430.10" y="599.75" font-size="11.2" text-anchor="middle" textLength="85.6" lengthAdjust="spacingAndGlyphs">Garruk Relentless</text>
<rect x="486.00" y="619.80" width="47.50" height="25.40" fill="#000" fill-opacity=".22"/>
<rect x="485.00" y="618.60" width="47.50" height="25.40" fill="url(#gG)"/>
<path d="M485.00 618.60h47.50l-3 3h-41.50z" fill="#c4e480" fill-opacity=".85"/>
<path d="M485.00 644.00h47.50l-3 -3h-41.50z" fill="#000" fill-opacity=".18"/>
<path d="M485.00 618.60l3 3v19.40l-3 3z" fill="#c4e480" fill-opacity=".35"/>
<path d="M532.50 618.60l-3 3v19.40l3 3z" fill="#000" fill-opacity=".17"/>
<text x="520.60" y="636.34" font-size="11.0" font-weight="bold" text-anchor="middle">4</text>
<text x="434.64" y="634.30" font-size="11.2" text-anchor="middle" textLength="76.9" lengthAdjust="spacingAndGlyphs">Selesnya Charm</text>
<rect x="486.00" y="654.35" width="47.50" height="25.40" fill="#000" fill-opacity=".22"/>
<rect x="485.00" y="653.15" width="47.50" height="25.40" fill="url(#gG)"/>
<path d="M485.00 653.15h47.50l-3 3h-41.50z" fill="#c4e480" fill-opacity=".85"/>
<path d="M485.00 678.55h47.50l-3 -3h-41.50z" fill="#000" fill-opacity=".18"/>
<path d="M485.00 653.15l3 3v19.40l-3 3z" fill="#c4e480" fill-opacity=".35"/>
<path d="M532.50 653.15l-3 3v19.40l3 3z" fill="#000" fill-opacity=".17"/>
<text x="520.60" y="670.95" font-size="11.0" font-weight="bold" text-anchor="middle">4</text>
<text x="417.52" y="668.85" font-size="11.2" text-anchor="middle" textLength="111.2" lengthAdjust="spacingAndGlyphs">Bonfire of the Damned</text>
<rect x="486.00" y="688.90" width="59.50" height="25.40" fill="#000" fill-opacity=".22"/>
<rect x="485.00" y="687.70" width="59.50" height="25.40" fill="url(#gG)"/>
<path d="M485.00 687.70h59.50l-3 3h-53.50z" fill="#c4e480" fill-opacity=".85"/>
<path d="M485.00 713.10h59.50l-3 -3h-53.50z" fill="#000" fill-opacity=".18"/>
<path d="M485.00 687.70l3 3v19.40l-3 3z" fill="#c4e480" fill-opacity=".35"/>
<path d="M544.50 687.70l-3 3v19.40l3 3z" fill="#000" fill-opacity=".17"/>
<text x="532.60" y="705.56" font-size="11.0" font-weight="bold" text-anchor="middle">5</text>
<text x="431.64" y="703.40" font-size="11.2" text-anchor="middle" textLength="82.9" lengthAdjust="spacingAndGlyphs">Mizzium Mortars</text>
<rect x="486.00" y="723.45" width="47.50" height="25.40" fill="#000" fill-opacity=".22"/>
<rect x="485.00" y="722.25" width="47.50" height="25.40" fill="url(#gG)"/>
<path d="M485.00 722.25h47.50l-3 3h-41.50z" fill="#c4e480" fill-opacity=".85"/>
<path d="M485.00 747.65h47.50l-3 -3h-41.50z" fill="#000" fill-opacity=".18"/>
<path d="M485.00 722.25l3 3v19.40l-3 3z" fill="#c4e480" fill-opacity=".35"/>
<path d="M532.50 722.25l-3 3v19.40l3 3z" fill="#000" fill-opacity=".17"/>
<text x="520.60" y="740.17" font-size="11.0" font-weight="bold" text-anchor="middle">4</text>
<text x="431.49" y="737.95" font-size="11.2" text-anchor="middle" textLength="83.2" lengthAdjust="spacingAndGlyphs">Liliana of the Veil</text>
<rect x="486.00" y="758.00" width="47.50" height="25.40" fill="#000" fill-opacity=".22"/>
<rect x="485.00" y="756.80" width="47.50" height="25.40" fill="url(#gG)"/>
<path d="M485.00 756.80h47.50l-3 3h-41.50z" fill="#c4e480" fill-opacity=".85"/>
<path d="M485.00 782.20h47.50l-3 -3h-41.50z" fill="#000" fill-opacity=".18"/>
<path d="M485.00 756.80l3 3v19.40l-3 3z" fill="#c4e480" fill-opacity=".35"/>
<path d="M532.50 756.80l-3 3v19.40l3 3z" fill="#000" fill-opacity=".17"/>
<text x="520.60" y="774.78" font-size="11.0" font-weight="bold" text-anchor="middle">4</text>
<text x="455.32" y="772.50" font-size="11.2" text-anchor="middle" textLength="35.6" lengthAdjust="spacingAndGlyphs">Putrefy</text>
<text x="470.30" y="464.00" font-size="13.6" font-weight="bold" text-anchor="middle" textLength="67.6" lengthAdjust="spacingAndGlyphs"># of Decks</text>
</svg></body></html>
